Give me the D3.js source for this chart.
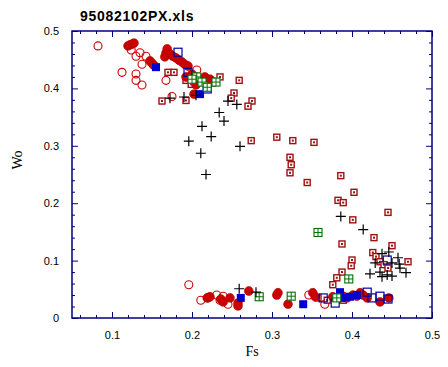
<!DOCTYPE html>
<html><head><meta charset="utf-8">
<script src="https://cdn.jsdelivr.net/npm/d3@7"></script>
<style>body{margin:0;background:#fff}svg{display:block}</style>
</head><body>
<script>
// ---- data (Fs, Wo) ----
const title = "95082102PX.xls";
const xTicks = [0.1, 0.2, 0.3, 0.4, 0.5];
const yTicks = [0, 0.1, 0.2, 0.3, 0.4, 0.5];

const openCircles = [
 [0.0825,0.474],[0.124,0.467],[0.135,0.462],[0.13,0.456],[0.1425,0.456],[0.1375,0.442],
 [0.1125,0.428],[0.13,0.425],[0.13,0.414],[0.1375,0.406],[0.1675,0.414],[0.175,0.386],
 [0.206,0.432],[0.196,0.058],[0.211,0.031],[0.22,0.035],[0.231,0.040],[0.239,0.038],
 [0.245,0.024],[0.235,0.031],[0.346,0.040],[0.366,0.024]
];
const filledCircles = [
 [0.12,0.474],[0.1225,0.476],[0.125,0.477],[0.1275,0.479],
 [0.1475,0.448],[0.15,0.444],[0.1525,0.440],
 [0.166,0.455],[0.1675,0.462],[0.169,0.469],
 [0.1725,0.460],[0.176,0.456],[0.18,0.453],[0.184,0.449],[0.1875,0.446],[0.191,0.442],[0.195,0.439],
 [0.1925,0.420],[0.2,0.425],[0.205,0.420],[0.21,0.416],[0.216,0.420],[0.2225,0.416],[0.2275,0.411],
 [0.205,0.406],[0.2025,0.390],
 [0.219,0.035],[0.2225,0.037],[0.236,0.033],[0.239,0.028],[0.2475,0.035],[0.2575,0.026],[0.2575,0.021],
 [0.271,0.047],[0.306,0.040],[0.3075,0.044],[0.32,0.024],[0.351,0.044],[0.354,0.037],[0.376,0.037],
 [0.389,0.038],[0.394,0.035],[0.401,0.040],[0.406,0.038],[0.41,0.044],[0.414,0.040],[0.419,0.035],
 [0.435,0.028],[0.446,0.035]
];
const dotSquares = [
 [0.17,0.428],[0.1775,0.428],[0.1925,0.414],[0.199,0.407],[0.235,0.420],[0.259,0.414],[0.2525,0.392],
 [0.249,0.383],[0.1625,0.378],[0.1925,0.379],[0.275,0.378],[0.27,0.369],
 [0.274,0.309],[0.306,0.315],[0.326,0.309],[0.3525,0.306],[0.3225,0.280],[0.324,0.267],[0.3225,0.253],
 [0.344,0.236],[0.386,0.248],[0.4025,0.219],[0.3825,0.205],[0.389,0.201],[0.445,0.184],[0.401,0.171],
 [0.4275,0.140],[0.3875,0.129],[0.45,0.126],[0.426,0.114],[0.43,0.107],[0.435,0.098],[0.44,0.093],
 [0.445,0.087],[0.47,0.098],[0.4,0.101],[0.399,0.091],[0.3875,0.080],[0.381,0.070],[0.376,0.058],
 [0.3575,0.035],[0.369,0.031],[0.389,0.031]
];
const plusMarks = [
 [0.1725,0.383],[0.19,0.385],[0.205,0.388],[0.245,0.378],[0.256,0.372],[0.234,0.358],[0.24,0.343],
 [0.2125,0.334],[0.224,0.316],[0.196,0.308],[0.211,0.287],[0.26,0.299],[0.2175,0.250],
 [0.259,0.051],[0.28,0.045],[0.386,0.177],[0.414,0.154],
 [0.4375,0.112],[0.446,0.115],[0.4575,0.105],[0.429,0.096],[0.45,0.096],[0.459,0.094],[0.46,0.087],
 [0.435,0.080],[0.4225,0.077],[0.444,0.075],[0.45,0.073],[0.4375,0.072],[0.4675,0.079]
];
const openSquares = [
 [0.1825,0.463],[0.195,0.428],[0.219,0.399],[0.444,0.101],[0.364,0.035],[0.379,0.026],
 [0.419,0.045],[0.425,0.035],[0.435,0.038],[0.445,0.033]
];
const filledSquares = [
 [0.155,0.437],[0.21,0.390],[0.261,0.035],[0.339,0.024],[0.385,0.045],[0.3875,0.035],
 [0.3975,0.037],[0.406,0.040]
];
const gridSquares = [
 [0.206,0.420],[0.2125,0.411],[0.219,0.402],[0.23,0.411],[0.2,0.416],
 [0.284,0.037],[0.324,0.038],[0.3575,0.149],[0.381,0.035],[0.396,0.068]
];

// ---- chart ----
const W = 448, H = 367;
const svg = d3.select("body").append("svg").attr("width", W).attr("height", H);
const x = d3.scaleLinear().domain([0.05, 0.5]).range([72, 432]);
const y = d3.scaleLinear().domain([0, 0.5]).range([318, 31]);
const axisColor = "#000080";
const fmt = d => d === 0 ? "0" : d3.format(".1f")(d);

const minorX = d3.range(0.06, 0.5, 0.02).filter(v => Math.abs(v*10 - Math.round(v*10)) > 1e-6);
const minorY = d3.range(0.02, 0.5, 0.02).filter(v => Math.abs(v*10 - Math.round(v*10)) > 1e-6);

function styleAxis(g){
  g.selectAll(".domain").remove();
  g.selectAll("line").attr("stroke", axisColor).attr("stroke-width", 1);
  g.selectAll("text").attr("fill", "#000").attr("font-family", "Liberation Sans, Arial, sans-serif").attr("font-size", 11);
}
// bottom
svg.append("g").attr("transform", "translate(0,318)")
  .call(d3.axisBottom(x).tickValues(xTicks).tickFormat(fmt).tickSizeInner(-6).tickPadding(13)).call(styleAxis);
svg.append("g").attr("transform", "translate(0,318)")
  .call(d3.axisBottom(x).tickValues(minorX).tickFormat("").tickSizeInner(-3)).call(styleAxis);
// top
svg.append("g").attr("transform", "translate(0,31)")
  .call(d3.axisTop(x).tickValues(xTicks).tickFormat("").tickSizeInner(-6)).call(styleAxis);
svg.append("g").attr("transform", "translate(0,31)")
  .call(d3.axisTop(x).tickValues(minorX).tickFormat("").tickSizeInner(-3)).call(styleAxis);
// left
svg.append("g").attr("transform", "translate(72,0)")
  .call(d3.axisLeft(y).tickValues(yTicks).tickFormat(fmt).tickSizeInner(-6).tickPadding(13)).call(styleAxis);
svg.append("g").attr("transform", "translate(72,0)")
  .call(d3.axisLeft(y).tickValues(minorY).tickFormat("").tickSizeInner(-3)).call(styleAxis);
// right
svg.append("g").attr("transform", "translate(432,0)")
  .call(d3.axisRight(y).tickValues(yTicks).tickFormat("").tickSizeInner(-6)).call(styleAxis);
svg.append("g").attr("transform", "translate(432,0)")
  .call(d3.axisRight(y).tickValues(minorY).tickFormat("").tickSizeInner(-3)).call(styleAxis);

svg.append("rect").attr("x", 72).attr("y", 31).attr("width", 360).attr("height", 287)
  .attr("fill", "none").attr("stroke", axisColor).attr("stroke-width", 1.5);

// titles
svg.append("text").attr("x", 80).attr("y", 21).text(title)
  .attr("font-family", "Liberation Sans, Arial, sans-serif").attr("font-weight", "bold")
  .attr("font-size", 14).attr("letter-spacing", 0.7);
svg.append("text").attr("x", 252).attr("y", 356).attr("text-anchor", "middle").text("Fs")
  .attr("font-family", "Liberation Serif, Times New Roman, serif").attr("font-size", 14);
svg.append("text").attr("transform", "translate(22,160) rotate(-90)").attr("text-anchor", "middle").text("Wo")
  .attr("font-family", "Liberation Serif, Times New Roman, serif").attr("font-size", 14);

const plot = svg.append("g");

plot.selectAll(".oc").data(openCircles).join("circle")
  .attr("cx", d => x(d[0])).attr("cy", d => y(d[1])).attr("r", 4)
  .attr("fill", "none").attr("stroke", "#cc0000").attr("stroke-width", 1.1);

const ds = plot.selectAll(".ds").data(dotSquares).join("g")
  .attr("transform", d => `translate(${x(d[0])},${y(d[1])})`);
ds.append("rect").attr("x", -3).attr("y", -3).attr("width", 6).attr("height", 6)
  .attr("fill", "#fff").attr("stroke", "#a01010").attr("stroke-width", 1.4);
ds.append("rect").attr("x", -1).attr("y", -1).attr("width", 2).attr("height", 2).attr("fill", "#a01010");

plot.selectAll(".fc").data(filledCircles).join("circle")
  .attr("cx", d => x(d[0])).attr("cy", d => y(d[1])).attr("r", 4.4)
  .attr("fill", "#cc0000").attr("stroke", "#b00000").attr("stroke-width", 0.6);

plot.selectAll(".os").data(openSquares).join("rect")
  .attr("x", d => x(d[0]) - 4).attr("y", d => y(d[1]) - 4).attr("width", 8).attr("height", 8)
  .attr("fill", "none").attr("stroke", "#0000a0").attr("stroke-width", 1.2);

plot.selectAll(".fs").data(filledSquares).join("rect")
  .attr("x", d => x(d[0]) - 4).attr("y", d => y(d[1]) - 4).attr("width", 8).attr("height", 8)
  .attr("fill", "#0000cc");

const gs = plot.selectAll(".gs").data(gridSquares).join("g")
  .attr("transform", d => `translate(${x(d[0])},${y(d[1])})`);
gs.append("rect").attr("x", -4).attr("y", -4).attr("width", 8).attr("height", 8)
  .attr("fill", "#fff").attr("stroke", "#007000").attr("stroke-width", 1.1);
gs.append("path").attr("d", "M-4,0H4M0,-4V4").attr("stroke", "#007000").attr("stroke-width", 1);

plot.selectAll(".pm").data(plusMarks).join("path")
  .attr("d", d => `M${x(d[0]) - 5},${y(d[1])}h10M${x(d[0])},${y(d[1]) - 5}v10`)
  .attr("stroke", "#000").attr("stroke-width", 1.2);
</script>
</body></html>
